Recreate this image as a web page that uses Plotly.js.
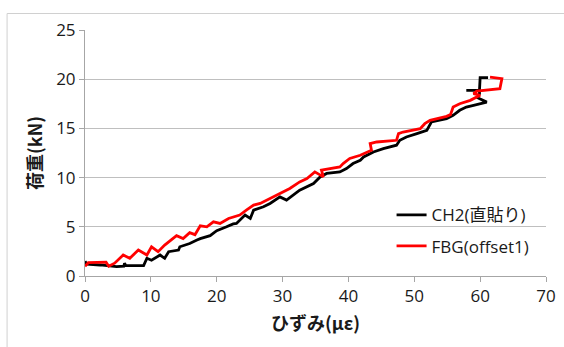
<!DOCTYPE html>
<html>
<head>
<meta charset="utf-8">
<script src="https://cdn.plot.ly/plotly-3.0.1.min.js"></script>
<style>html,body{margin:0;padding:0;background:#fff;}#chart{width:564px;height:347px;}</style>
</head>
<body>
<div id="chart"></div>
<script>
// CH2(直貼り) — strain (με) vs load (kN)
const ch2Strain = [0,0.3,2.3,4.8,5.9,6.0,6.2,8.9,9.4,10.1,11.4,12.1,12.7,14.2,14.4,15.9,17.0,17.5,19.0,20.0,21.5,22.5,23.0,24.3,25.1,25.6,27.1,28.1,29.6,30.6,32.6,34.7,35.7,36.7,38.7,39.7,40.7,41.8,42.3,43.8,45.3,47.3,47.8,48.8,50.4,51.9,52.6,54.9,55.4,55.9,56.9,57.9,59.0,60.0,61.0,59.6,59.9,59.9,57.9,59.9,60.0,61.2];
const ch2Load   = [1.5,1.2,1.12,0.95,1.0,1.3,1.05,1.05,1.8,1.6,2.13,1.8,2.47,2.64,2.97,3.3,3.65,3.8,4.1,4.6,5.0,5.3,5.34,6.2,5.85,6.69,7.03,7.37,8.04,7.71,8.72,9.4,10.07,10.42,10.58,10.92,11.43,11.76,12.1,12.61,12.95,13.29,13.79,14.13,14.47,14.8,15.65,15.99,16.16,16.33,16.84,17.17,17.34,17.51,17.67,18.12,18.53,18.86,18.86,18.86,20.15,20.15];
// FBG(offset1)
const fbgStrain = [0,0.5,3.2,3.6,4.5,5.8,6.8,8.1,9.4,10.1,11.1,12.1,13.9,14.9,15.9,16.7,17.5,18.5,19.5,20.5,21.8,22.5,23.5,24.5,25.6,26.6,28.1,29.1,31.1,32.6,33.7,34.9,36.2,35.9,38.7,39.2,40.2,41.8,42.8,43.5,43.3,44.3,47.3,47.6,48.3,50.9,51.6,52.4,54.9,55.5,55.9,56.9,58.5,59.5,60.0,59.0,59.5,63.0,63.3,61.5];
const fbgLoad   = [1.0,1.35,1.4,1.0,1.3,2.13,1.8,2.64,2.13,2.97,2.47,3.14,4.1,3.8,4.4,4.2,5.1,5.0,5.51,5.34,5.85,6.01,6.19,6.69,7.2,7.37,7.88,8.2,8.89,9.56,9.9,10.58,10.07,10.75,11.09,11.43,11.94,12.27,12.61,12.78,13.46,13.62,13.79,14.47,14.63,14.97,15.48,15.82,16.23,16.4,17.17,17.51,17.85,18.18,18.36,18.53,18.79,19.04,20.05,20.2];
const seriesNames = ['CH2(直貼り)','FBG(offset1)'];
const xTicks = [0,10,20,30,40,50,60,70];
const yTicks = [0,5,10,15,20,25];

const tickFont = {family:'"Open Sans", "Noto Sans", sans-serif', size:17, color:'#1a1a1a'};
const titleFont = {family:'"Noto Sans CJK JP", sans-serif', size:18, color:'#1a1a1a', weight:700};

const traces = [
  {x: ch2Strain, y: ch2Load, name: seriesNames[0], mode:'lines', line:{color:'#000000', width:2.8}, legendgroup:'a'},
  {x: fbgStrain, y: fbgLoad, name: seriesNames[1], mode:'lines', line:{color:'#ff0000', width:2.8}, legendgroup:'b'}
];

const layout = {
  width:564, height:347,
  margin:{l:85, r:18, t:30, b:71},
  paper_bgcolor:'#ffffff', plot_bgcolor:'#ffffff',
  showlegend:true,
  legend:{x:0.665, y:0.32, xanchor:'left', yanchor:'top', bgcolor:'rgba(0,0,0,0)',
          font:{family:'"Open Sans", "Noto Sans CJK JP", sans-serif', size:17, color:'#1a1a1a'},
          traceorder:'grouped', tracegroupgap:6},
  xaxis:{range:[0,70], tickvals:xTicks, ticktext:xTicks.map(String), showgrid:false, zeroline:false,
         showline:true, linecolor:'#a6a6a6', linewidth:1, ticks:'outside', ticklen:5, tickcolor:'#a6a6a6',
         tickfont:tickFont, title:{text:'ひずみ(με)', font:titleFont, standoff:10}},
  yaxis:{range:[0,25], tickvals:yTicks, ticktext:yTicks.map(String), showgrid:true, gridcolor:'#bfbfbf', gridwidth:1,
         zeroline:false, showline:true, linecolor:'#a6a6a6', linewidth:1, ticks:'outside', ticklen:5, tickcolor:'#a6a6a6',
         tickfont:tickFont, title:{text:'荷重(kN)', font:titleFont, standoff:8}},
  shapes:[
    {type:'rect', xref:'paper', yref:'paper', x0:-0.169, x1:1.2, y0:-0.3, y1:1.067,
     line:{color:'#d0d0d0', width:1}, fillcolor:'rgba(0,0,0,0)', layer:'below'}
  ]
};

Plotly.newPlot('chart', traces, layout, {displayModeBar:false, staticPlot:true});
</script>
</body>
</html>
